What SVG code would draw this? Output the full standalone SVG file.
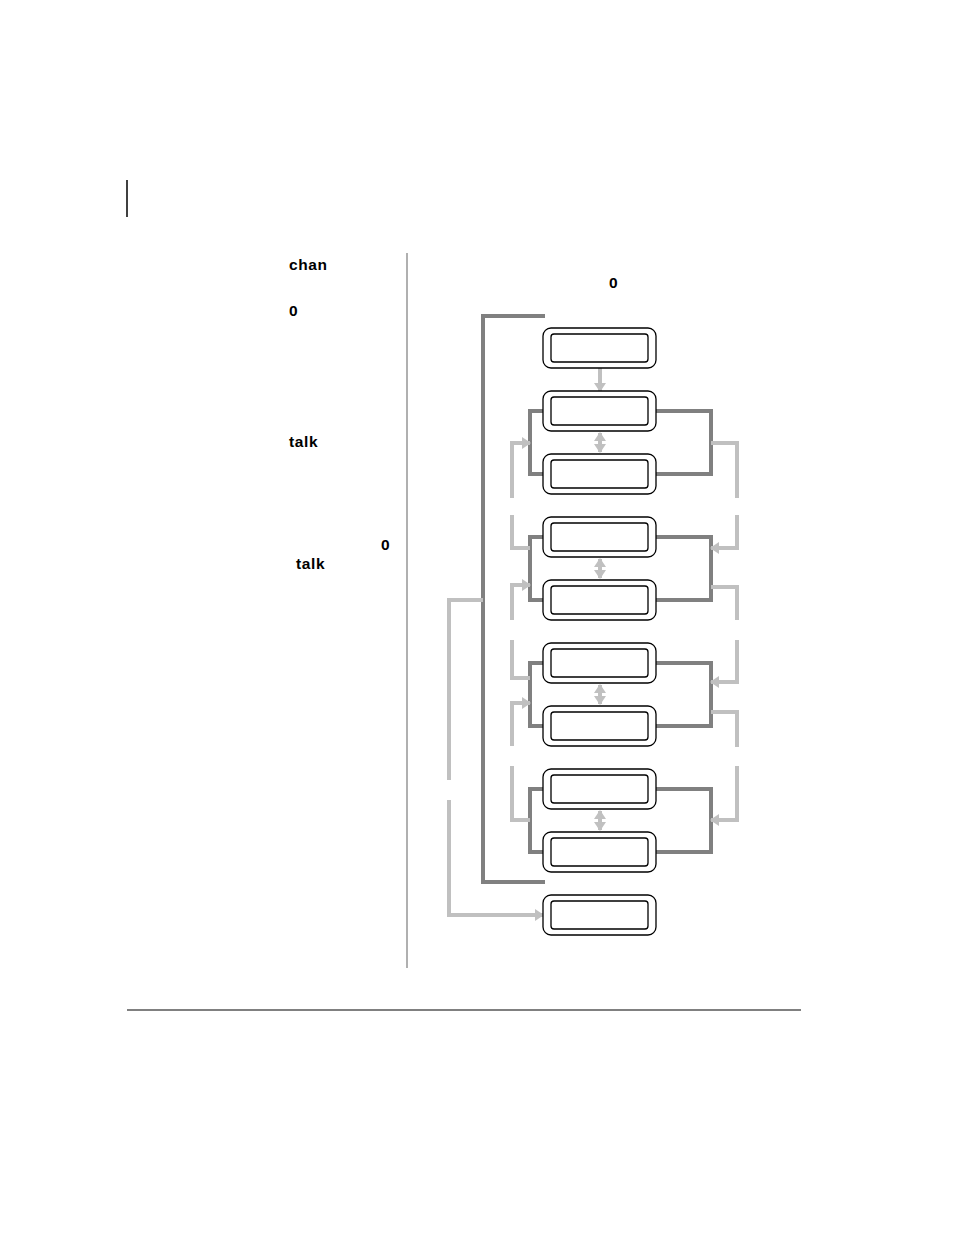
<svg xmlns="http://www.w3.org/2000/svg" width="954" height="1235" viewBox="0 0 954 1235">
<style>
.t{font-family:"Liberation Sans",Arial,sans-serif;font-weight:bold;font-size:15.5px;letter-spacing:0.6px;fill:#000}
.d{fill:none;stroke:#808080;stroke-width:4}
.l{fill:none;stroke:#c0c0c0;stroke-width:4}
.o{fill:#fff;stroke:#000;stroke-width:1.3}
.i{fill:#fff;stroke:#000;stroke-width:1.3}
</style>
<defs>
<marker id="a" markerUnits="userSpaceOnUse" markerWidth="12" markerHeight="14" refX="8" refY="7" orient="auto-start-reverse"><path d="M0,1 L9,7 L0,13 Z" fill="#c0c0c0"/></marker>
</defs>
<rect width="954" height="1235" fill="#fff"/>
<line x1="127" y1="180" x2="127" y2="217" stroke="#000" stroke-width="1.5"/>
<line x1="407" y1="253" x2="407" y2="968" stroke="#b0b0b0" stroke-width="2"/>
<line x1="127" y1="1010" x2="801" y2="1010" stroke="#808080" stroke-width="2"/>
<text class="t" x="289" y="270">chan</text>
<text class="t" x="289" y="316">0</text>
<text class="t" x="289" y="447">talk</text>
<text class="t" x="381" y="550">0</text>
<text class="t" x="296" y="569">talk</text>
<text class="t" x="609" y="288">0</text>
<g id="connectors">
<path class="d" d="M545,316 H483 V882 H545"/>
<path class="d" d="M545,411 H530 V474 H545 M656,411 H711 V474 H656"/>
<path class="d" d="M545,537 H530 V600 H545 M656,537 H711 V600 H656"/>
<path class="d" d="M545,663 H530 V726 H545 M656,663 H711 V726 H656"/>
<path class="d" d="M545,789 H530 V852 H545 M656,789 H711 V852 H656"/>
<path class="l" d="M512,498 V443 H530" marker-end="url(#a)"/>
<path class="l" d="M512,515 V548 H530"/>
<path class="l" d="M512,620 V585 H530" marker-end="url(#a)"/>
<path class="l" d="M512,640 V678 H530"/>
<path class="l" d="M512,746 V703 H530" marker-end="url(#a)"/>
<path class="l" d="M512,766 V820 H530"/>
<path class="l" d="M711,443 H737 V498"/>
<path class="l" d="M737,515 V548 H711" marker-end="url(#a)"/>
<path class="l" d="M711,587 H737 V620"/>
<path class="l" d="M737,640 V682 H711" marker-end="url(#a)"/>
<path class="l" d="M711,712 H737 V747"/>
<path class="l" d="M737,766 V820 H711" marker-end="url(#a)"/>
<path class="l" d="M483,600 H449 V780"/>
<path class="l" d="M449,800 V915 H543" marker-end="url(#a)"/>
<path class="l" stroke-width="5" d="M600,368 V391" marker-end="url(#a)"/>
<path class="l" stroke-width="5" d="M600,433 V452" marker-start="url(#a)" marker-end="url(#a)"/>
<path class="l" stroke-width="5" d="M600,559 V578" marker-start="url(#a)" marker-end="url(#a)"/>
<path class="l" stroke-width="5" d="M600,685 V704" marker-start="url(#a)" marker-end="url(#a)"/>
<path class="l" stroke-width="5" d="M600,811 V830" marker-start="url(#a)" marker-end="url(#a)"/>
</g>
<g id="n1"><rect class="o" x="543" y="328" width="113" height="40" rx="8"/><rect class="i" x="551" y="334" width="97" height="28" rx="3"/></g>
<g id="n2"><rect class="o" x="543" y="391" width="113" height="40" rx="8"/><rect class="i" x="551" y="397" width="97" height="28" rx="3"/></g>
<g id="n3"><rect class="o" x="543" y="454" width="113" height="40" rx="8"/><rect class="i" x="551" y="460" width="97" height="28" rx="3"/></g>
<g id="n4"><rect class="o" x="543" y="517" width="113" height="40" rx="8"/><rect class="i" x="551" y="523" width="97" height="28" rx="3"/></g>
<g id="n5"><rect class="o" x="543" y="580" width="113" height="40" rx="8"/><rect class="i" x="551" y="586" width="97" height="28" rx="3"/></g>
<g id="n6"><rect class="o" x="543" y="643" width="113" height="40" rx="8"/><rect class="i" x="551" y="649" width="97" height="28" rx="3"/></g>
<g id="n7"><rect class="o" x="543" y="706" width="113" height="40" rx="8"/><rect class="i" x="551" y="712" width="97" height="28" rx="3"/></g>
<g id="n8"><rect class="o" x="543" y="769" width="113" height="40" rx="8"/><rect class="i" x="551" y="775" width="97" height="28" rx="3"/></g>
<g id="n9"><rect class="o" x="543" y="832" width="113" height="40" rx="8"/><rect class="i" x="551" y="838" width="97" height="28" rx="3"/></g>
<g id="n10"><rect class="o" x="543" y="895" width="113" height="40" rx="8"/><rect class="i" x="551" y="901" width="97" height="28" rx="3"/></g>
</svg>
